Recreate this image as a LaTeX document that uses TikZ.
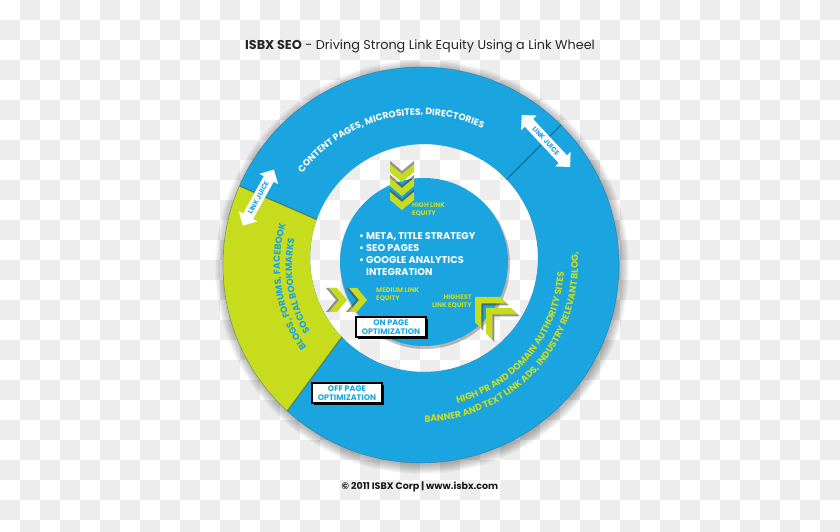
\documentclass[tikz,border=0pt]{standalone}
\usepackage{fontspec}
\setsansfont{Poppins}
\usetikzlibrary{shapes.arrows,decorations.text,shadows}
\definecolor{wblue}{RGB}{27,165,224}
\definecolor{wlime}{RGB}{200,220,30}
\definecolor{checkgray}{RGB}{237,237,237}
\newcommand{\bandfont}{\sffamily\bfseries\fontsize{9.2}{9.2}\selectfont}

\begin{document}
\begin{tikzpicture}[x=1pt, y=1pt]

\tikzstyle{juice}=[double arrow, fill=white, text=wblue, font=\sffamily\bfseries\fontsize{6.8}{7}\selectfont, double arrow head extend=5pt, inner xsep=1pt, inner ysep=3pt, minimum height=66pt];
\tikzstyle{optbox}=[draw=black, line width=1.2pt, fill=white, text=wblue, font=\sffamily\bfseries\fontsize{8}{9.5}\selectfont, align=center, minimum width=70pt, minimum height=20pt, inner sep=1pt, drop shadow={shadow xshift=2pt, shadow yshift=-2pt, opacity=1, fill=black}];
\tikzstyle{small}=[text=wlime, font=\sffamily\bfseries\fontsize{6.6}{8}\selectfont, inner sep=0pt];
\tikzstyle{seam}=[black, opacity=0.3, line width=1.2pt];
\tikzset{
  chevs/.pic={
    \fill[black!70, opacity=0.6] (-3,0) -- (-13,-12) -- (-21,-12) -- (-11,0) -- (-21,12) -- (-13,12) -- cycle;
    \fill[wlime] (0,0) -- (-10,-12) -- (-18,-12) -- (-8,0) -- (-18,12) -- (-10,12) -- cycle;},
  chevl/.pic={
    \fill[black!70, opacity=0.6] (-3,0) -- (-21,-18) -- (-30,-18) -- (-12,0) -- (-30,18) -- (-21,18) -- cycle;
    \fill[wlime] (0,0) -- (-18,-18) -- (-27,-18) -- (-9,0) -- (-27,18) -- (-18,18) -- cycle;}
}

\useasboundingbox (0,0) rectangle (840,532);
\fill[white] (0,0) rectangle (840,532);
% checker background
\foreach \i in {0,2,...,40}
  \foreach \j in {1,3,...,25}
    \fill[checkgray] (20*\i,532-20*\j) rectangle ++(20,-20);
\foreach \i in {1,3,...,41}
  \foreach \j in {0,2,...,26}
    \fill[checkgray] (20*\i,532-20*\j) rectangle ++(20,-20);

\coordinate (o) at (421,267);
\coordinate (h) at (424,274);
\coordinate (c) at (424,270);

% wheel shadow
\foreach \k in {1,...,10}
  \fill[black, opacity=0.03, even odd rule] ([shift={(1,-2)}]o) circle[radius=197+\k] (h) circle[radius=114];

% outer band
\fill[wblue, even odd rule] (o) circle[radius=198] (h) circle[radius=114];
\begin{scope}
  \clip (o) -- ([shift={(156.5:215)}]o) arc[start angle=156.5, end angle=228, radius=215] -- (392,263) -- cycle;
  \fill[wlime, even odd rule] (o) circle[radius=198] (h) circle[radius=114];
\end{scope}
\draw[black, opacity=0.2, line width=0.6pt] (o) circle[radius=198];

% seams between segments
\draw[seam] ([shift={(156.5:114)}]o) -- ([shift={(156.5:198)}]o);
\draw[seam] (341.8,195) -- (287.2,121);
\draw[seam] ([shift={(45:121)}]o) -- ([shift={(45:198)}]o);

% inner disc
\fill[black, opacity=0.25] ([shift={(1,-2)}]c) circle[radius=85];
\fill[wblue] (c) circle[radius=84];

% band texts
\path[decorate, decoration={text along path, text align=center, text color=white,
  text={|\bandfont|CONTENT PAGES, MICROSITES, DIRECTORIES}}]
  ([shift={(164:150)}]o) arc[start angle=164, end angle=44, radius=150];
\path[decorate, decoration={text along path, text align=center, text color=wblue,
  text={|\bandfont|BLOGS, FORUMS, FACEBOOK}}]
  ([shift={(229.5:141)}]o) arc[start angle=229.5, end angle=149.5, radius=141];
\path[decorate, decoration={text along path, text align=center, text color=wblue,
  text={|\bandfont|SOCIAL BOOKMARKS}}]
  ([shift={(229.5:129)}]o) arc[start angle=229.5, end angle=149.5, radius=129];
\path[decorate, decoration={text along path, text align=center, text color=wlime,
  text={|\bandfont|HIGH PR AND DOMAIN AUTHORITY SITES}}]
  ([shift={(241:143)}]o) arc[start angle=241, end angle=401, radius=143];
\path[decorate, decoration={text along path, text align=center, text color=wlime,
  text={|\bandfont|BANNER AND TEXT LINK ADS, INDUSTRY RELEVANT BLOG,}}]
  ([shift={(238:157)}]o) arc[start angle=238, end angle=398, radius=157];

% link juice arrows
\node[juice, rotate=61, minimum height=64pt] (juiceL) at ([shift={(157.5:176)}]o) {LINK JUICE};
\node[juice, rotate=-47, minimum height=71pt] (juiceR) at ([shift={(44.8:176)}]o) {LINK JUICE};

% chevrons
\pic[rotate=-90] at (402,350) {chevs};
\pic[rotate=-90] at (402,336) {chevs};
\pic[rotate=-90] at (402,322) {chevs};
\pic at (347,232) {chevs};
\pic at (367,232) {chevs};
\pic[rotate=135] at (486,224) {chevl};
\pic[rotate=135] at (475,235) {chevl};

% inner texts
\node[anchor=north west, inner sep=0pt, text=white, align=left, font=\sffamily\bfseries\fontsize{9.8}{12}\selectfont] (tactics) at (359,300)
  {\textbullet\ META, TITLE STRATEGY\\ \textbullet\ SEO PAGES\\ \textbullet\ GOOGLE ANALYTICS\\ \phantom{\textbullet\ }INTEGRATION};
\node[small, anchor=north west, align=left] (highlbl) at (412,329) {HIGH LINK\\EQUITY};
\node[small, anchor=north west, align=left] (medlbl) at (376,244) {MEDIUM LINK\\EQUITY};
\node[small, anchor=north east, align=right] (highestlbl) at (472,237) {HIGHEST\\LINK EQUITY};

\node[optbox] (onpage) at (391,205) {ON PAGE\\OPTIMIZATION};
\node[optbox] (offpage) at (347,139) {OFF PAGE\\OPTIMIZATION};

\node[font=\sffamily\fontsize{12.8}{15}\selectfont, text=black!85] (title) at (420,486) {\textbf{ISBX SEO} - Driving Strong Link Equity Using a Link Wheel};
\node[font=\sffamily\bfseries\fontsize{9.5}{11}\selectfont, text=black!90] (credit) at (420,45) {© 2011 ISBX Corp | www.isbx.com};
\end{tikzpicture}
\end{document}
